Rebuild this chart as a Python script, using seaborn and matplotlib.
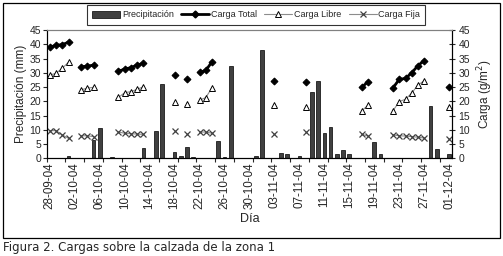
import pandas as pd
import seaborn as sns
import matplotlib.pyplot as plt
from matplotlib.lines import Line2D
from matplotlib.patches import Patch, Rectangle

sns.set_style('white')
plt.rcParams['font.family'] = ['Liberation Sans', 'DejaVu Sans']

start = pd.Timestamp('2004-09-28')
n_days = 65  # 28-09-04 .. 01-12-04

tick_labels = ['28-09-04', '02-10-04', '06-10-04', '10-10-04', '14-10-04',
               '18-10-04', '22-10-04', '26-10-04', '30-10-04', '03-11-04',
               '07-11-04', '11-11-04', '15-11-04', '19-11-04', '23-11-04',
               '27-11-04', '01-12-04']

# daily rain (mm)
rain_dates = ['2004-10-01', '2004-10-05', '2004-10-06', '2004-10-08', '2004-10-13',
              '2004-10-15', '2004-10-16', '2004-10-18', '2004-10-19', '2004-10-20',
              '2004-10-21', '2004-10-25', '2004-10-26', '2004-10-27', '2004-10-31',
              '2004-11-01', '2004-11-04', '2004-11-05', '2004-11-07', '2004-11-09',
              '2004-11-10', '2004-11-11', '2004-11-12', '2004-11-13', '2004-11-14',
              '2004-11-15', '2004-11-19', '2004-11-20', '2004-11-28', '2004-11-29',
              '2004-12-01']
rain_mm = [0.8, 6.4, 10.6, 0.4, 3.5, 9.6, 26.1, 2.1, 0.8, 4.0,
           0.3, 6.1, 0.3, 32.4, 0.8, 38.0, 1.9, 1.5, 0.8, 23.4,
           27.1, 8.8, 10.9, 1.5, 2.8, 1.5, 5.6, 1.5, 18.3, 3.3,
           1.6]

# road loads (g/m2)
load_dates = ['2004-09-28', '2004-09-29', '2004-09-30', '2004-10-01',
              '2004-10-03', '2004-10-04', '2004-10-05',
              '2004-10-09', '2004-10-10', '2004-10-11', '2004-10-12', '2004-10-13',
              '2004-10-18', '2004-10-20',
              '2004-10-22', '2004-10-23', '2004-10-24',
              '2004-11-03', '2004-11-08',
              '2004-11-17', '2004-11-18',
              '2004-11-22', '2004-11-23', '2004-11-24', '2004-11-25', '2004-11-26', '2004-11-27',
              '2004-12-01']
carga_total = [39.0, 39.6, 39.9, 40.7,
               32.1, 32.3, 32.7,
               30.5, 31.3, 31.8, 32.7, 33.3,
               29.1, 27.7,
               30.1, 30.8, 33.9,
               27.2, 26.9,
               24.9, 26.9,
               24.7, 27.7, 28.0, 30.0, 32.5, 34.3,
               24.9]
carga_libre = [29.2, 29.8, 31.6, 33.7,
               24.0, 24.6, 24.9,
               21.4, 23.0, 23.4, 24.2, 25.1,
               19.6, 18.9,
               20.4, 21.3, 24.8,
               18.7, 17.9,
               16.7, 18.6,
               16.7, 19.9, 20.7, 22.9, 25.7, 27.2,
               17.9]
carga_fija = [9.7, 9.7, 8.2, 7.0,
              7.9, 7.9, 7.6,
              9.2, 8.8, 8.6, 8.5, 8.4,
              9.4, 8.6,
              9.2, 9.2, 8.8,
              8.5, 9.1,
              8.4, 7.8,
              8.2, 7.9, 7.8, 7.6, 7.4, 7.1,
              6.8]

rain = pd.DataFrame({'day': (pd.to_datetime(rain_dates) - start).days, 'mm': rain_mm})
loads = pd.DataFrame({'day': (pd.to_datetime(load_dates) - start).days,
                      'total': carga_total, 'libre': carga_libre, 'fija': carga_fija})
# consecutive days form one line segment
loads['grp'] = (loads['day'].diff() != 1).cumsum()

fig = plt.figure(figsize=(5.03, 2.56), dpi=100)
ax = fig.add_axes([46.7 / 503, 1 - 158.3 / 256, 405.6 / 503, 128.3 / 256])
ax2 = ax.twinx()

sns.barplot(data=rain, x='day', y='mm', native_scale=True, width=0.6,
            color='#404040', edgecolor='black', linewidth=0.5, ax=ax)

sns.lineplot(data=loads, x='day', y='libre', units='grp', estimator=None,
             color='#8c8c8c', lw=0.8, marker='^', ms=4, mfc='white',
             mec='black', mew=0.7, ax=ax2)
sns.lineplot(data=loads, x='day', y='fija', units='grp', estimator=None,
             color='#8c8c8c', lw=0.8, marker='x', ms=4, mec='#404040',
             mew=0.9, ax=ax2)
sns.lineplot(data=loads, x='day', y='total', units='grp', estimator=None,
             color='black', lw=2, marker='D', ms=3.5, mec='black', ax=ax2)

for a in (ax, ax2):
    a.set_ylim(0, 45)
    a.set_yticks(range(0, 46, 5))
    a.set_xlim(-0.5, n_days - 0.5)
    for s in a.spines.values():
        s.set_linewidth(0.8)
        s.set_color('black')
    a.spines['top'].set_color('#808080')

ax.set_xticks(range(0, n_days, 4))
ax.set_xticklabels(tick_labels, rotation=90, fontsize=8.4)
ax.set_xticks([x - 0.5 for x in range(0, n_days, 3)], minor=True)
ax.tick_params(axis='x', which='major', length=0, pad=3)
ax.tick_params(axis='x', which='minor', bottom=True, length=3, width=0.8)
ax.tick_params(axis='y', left=True, length=3, width=0.8, labelsize=7.5, pad=1)
ax2.tick_params(axis='y', right=True, direction='inout', length=5, width=0.8,
                labelsize=7.5, pad=2)

ax.set_xlabel('Día', fontsize=9, labelpad=3)
ax.set_ylabel('Precipitación (mm)', fontsize=8.5, labelpad=2)
ax2.set_ylabel('Carga (g/m$^2$)', fontsize=8.5, labelpad=4)

handles = [Patch(facecolor='#404040', edgecolor='black', lw=0.5),
           Line2D([], [], color='black', lw=2, marker='D', ms=3.5),
           Line2D([], [], color='#8c8c8c', lw=0.8, marker='^', ms=4,
                  mfc='white', mec='black', mew=0.7),
           Line2D([], [], color='#8c8c8c', lw=0.8, marker='x', ms=4,
                  mec='#404040', mew=0.9)]
leg = fig.legend(handles, ['Precipitación', 'Carga Total', 'Carga Libre', 'Carga Fija'],
                 loc='upper left', bbox_to_anchor=(87 / 503, 1 - 5 / 256),
                 ncol=4, fontsize=6.5, frameon=True, fancybox=False,
                 handlelength=3.1, handleheight=0.8, handletextpad=0.15,
                 columnspacing=0.85, borderaxespad=0, borderpad=0.6)
leg.get_frame().set_edgecolor('black')
leg.get_frame().set_linewidth(0.8)

fig.patches.append(Rectangle((2.7 / 503, 1 - 237.5 / 256), 497.3 / 503, 234.8 / 256,
                             transform=fig.transFigure, fill=False,
                             edgecolor='black', lw=0.9))
fig.text(3 / 503, 1 - 247 / 256, 'Figura 2. Cargas sobre la calzada de la zona 1',
         fontsize=8.5, va='center', ha='left', family=['DejaVu Sans'])

fig.savefig('out.png', dpi=100)
